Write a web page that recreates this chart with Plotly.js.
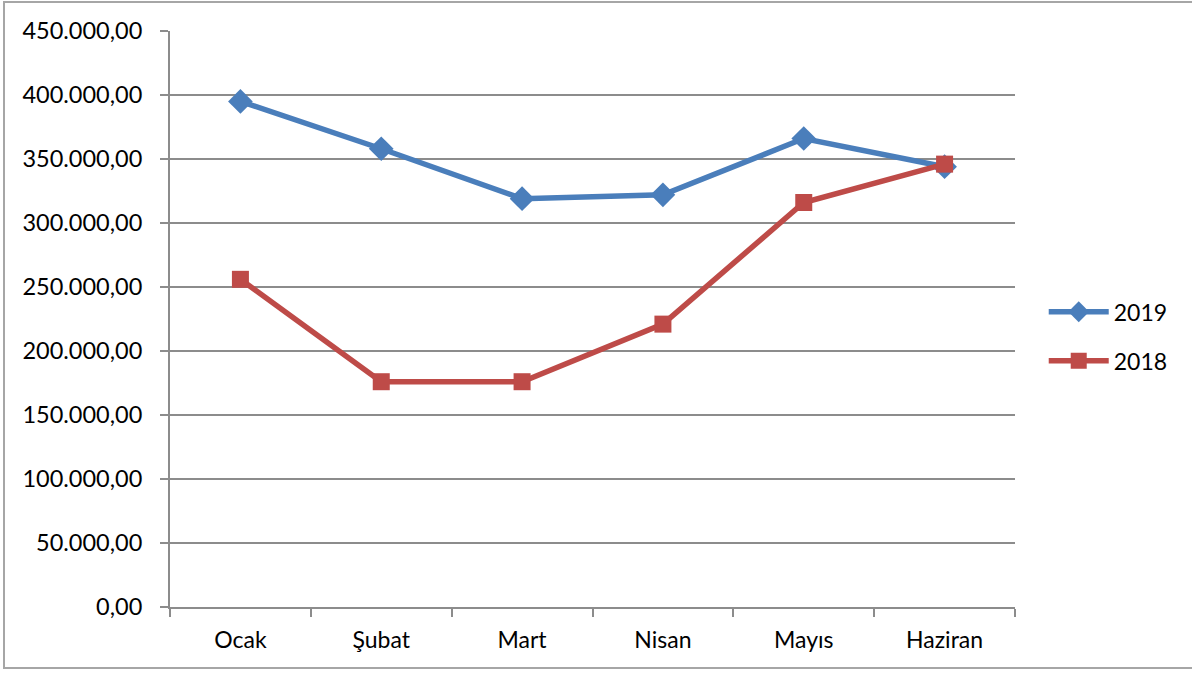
<!DOCTYPE html>
<html>
<head>
<meta charset="utf-8">
<script src="https://cdn.plot.ly/plotly-3.0.1.min.js"></script>
<style>
  html, body { margin: 0; padding: 0; background: #fff; }
  #wrap { position: relative; width: 1192px; height: 673px; overflow: hidden; }
  #chart { position: absolute; left: 0; top: 0; width: 1192px; height: 673px; }
  #frame { position: absolute; left: 3px; top: 1px; width: 1200px; height: 668px;
           border: 2px solid #a6a6a6; pointer-events: none; box-sizing: border-box; }
</style>
</head>
<body>
<div id="wrap">
  <div id="chart"></div>
  <div id="frame"></div>
</div>
<script>
const months = ["Ocak", "Şubat", "Mart", "Nisan", "Mayıs", "Haziran"];
const values2019 = [395000, 358000, 319000, 322000, 366000, 344000];
const values2018 = [256000, 176000, 176000, 221000, 316000, 346000];
const yTickVals = [0, 50000, 100000, 150000, 200000, 250000, 300000, 350000, 400000, 450000];
const yTickText = ["0,00", "50.000,00", "100.000,00", "150.000,00", "200.000,00", "250.000,00",
                   "300.000,00", "350.000,00", "400.000,00", "450.000,00"];

const FONT = "Lato, 'Open Sans', sans-serif";

const traces = [
  {
    x: months, y: values2019, name: "2019", type: "scatter", mode: "lines+markers",
    legendgroup: "a",
    line: { color: "#4a7ebb", width: 5.5 },
    marker: { symbol: "diamond", size: 19, color: "#4a7ebb" }
  },
  {
    x: months, y: values2018, name: "2018", type: "scatter", mode: "lines+markers",
    legendgroup: "b",
    line: { color: "#be4b48", width: 5.5 },
    marker: { symbol: "square", size: 17, color: "#be4b48" }
  }
];

const layout = {
  width: 1192, height: 673,
  margin: { l: 170, r: 177, t: 31, b: 66 },
  paper_bgcolor: "#ffffff", plot_bgcolor: "#ffffff",
  font: { family: FONT, size: 23, color: "#000" },
  showlegend: true,
  legend: {
    x: 1.034, y: 0.47, xanchor: "left", yanchor: "middle",
    font: { family: FONT, size: 23, color: "#000" },
    traceorder: "grouped", tracegroupgap: 16,
    itemwidth: 60,
    bgcolor: "rgba(0,0,0,0)"
  },
  xaxis: {
    type: "category",
    tickson: "boundaries",
    ticks: "outside", ticklen: 8, tickwidth: 2, tickcolor: "#8c8c8c",
    showline: true, linecolor: "#8c8c8c", linewidth: 2,
    showgrid: false, zeroline: false,
    tickfont: { family: FONT, size: 23, color: "#000" },
    ticklabelstandoff: 11,
    range: [-0.5, 5.5], fixedrange: true
  },
  yaxis: {
    range: [0, 450000],
    tickvals: yTickVals, ticktext: yTickText,
    ticks: "outside", ticklen: 8, tickwidth: 2, tickcolor: "#8c8c8c",
    showline: true, linecolor: "#8c8c8c", linewidth: 2,
    showgrid: true, gridcolor: "#8c8c8c", gridwidth: 2,
    zeroline: false,
    tickfont: { family: FONT, size: 23.5, color: "#000" },
    ticklabelstandoff: 13,
    fixedrange: true
  }
};

Plotly.newPlot("chart", traces, layout, { staticPlot: true, displayModeBar: false });
</script>
</body>
</html>
